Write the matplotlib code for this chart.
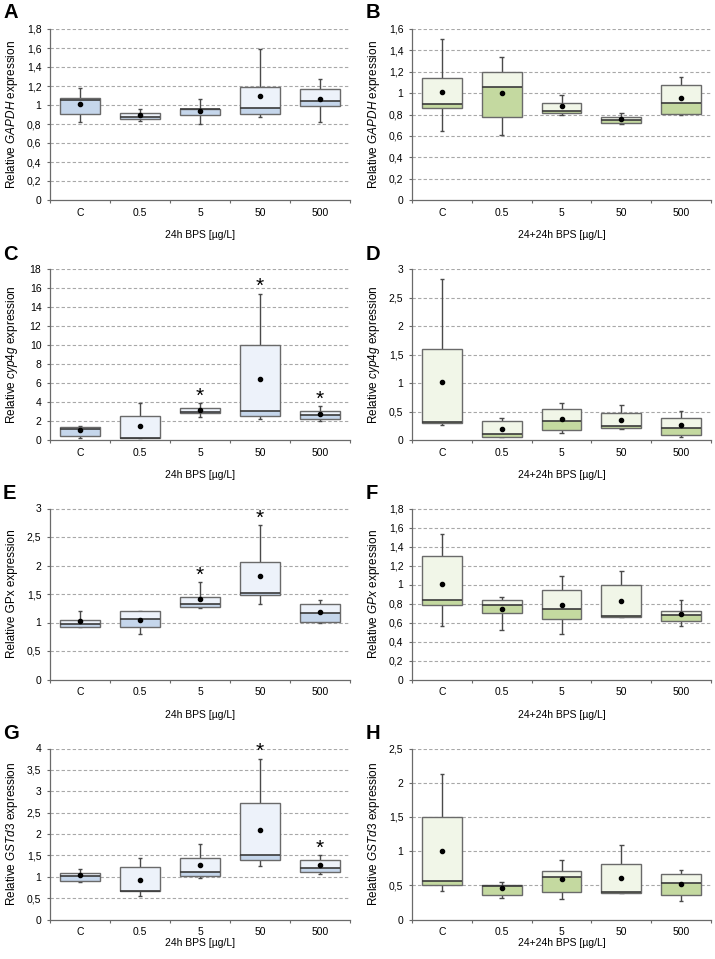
import matplotlib
matplotlib.use("Agg")
import matplotlib.pyplot as plt
import numpy as np

plt.rcParams['font.family'] = ['Liberation Sans', 'DejaVu Sans']
plt.rcParams['mathtext.fontset'] = 'custom'
plt.rcParams['mathtext.rm'] = 'Liberation Sans'
plt.rcParams['mathtext.it'] = 'Liberation Sans:italic'

categories = ["C", "0.5", "5", "50", "500"]

# Panel A: GAPDH, 24h
A_lo = [0.825, 0.83, 0.80, 0.87, 0.825]
A_q1 = [0.91, 0.856, 0.89, 0.91, 0.985]
A_med = [1.05, 0.877, 0.955, 0.97, 1.04]
A_q3 = [1.07, 0.92, 0.96, 1.19, 1.17]
A_hi = [1.18, 0.96, 1.06, 1.59, 1.27]
A_mean = [1.007, 0.89, 0.94, 1.094, 1.066]
A_star = [None, None, None, None, None]

# Panel B: GAPDH, 24+24h
B_lo = [0.65, 0.609, 0.80, 0.708, 0.795]
B_q1 = [0.864, 0.78, 0.817, 0.72, 0.808]
B_med = [0.895, 1.053, 0.836, 0.75, 0.907]
B_q3 = [1.137, 1.202, 0.907, 0.774, 1.078]
B_hi = [1.507, 1.336, 0.985, 0.81, 1.15]
B_mean = [1.01, 1.0, 0.879, 0.76, 0.954]
B_star = [None, None, None, None, None]

# Panel C: cyp4g, 24h
C_lo = [0.25, 0.18, 2.39, 2.18, 1.97]
C_q1 = [0.46, 0.18, 2.85, 2.57, 2.25]
C_med = [1.16, 0.22, 2.9, 3.03, 2.64]
C_q3 = [1.41, 2.54, 3.42, 9.96, 3.06]
C_hi = [1.51, 3.94, 3.94, 15.42, 3.56]
C_mean = [1.06, 1.44, 3.17, 6.44, 2.75]
C_star = [None, None, 4.86, 16.4, 4.47]

# Panel D: cyp4g, 24+24h
D_lo = [0.26, 0.047, 0.117, 0.19, 0.053]
D_q1 = [0.30, 0.058, 0.175, 0.205, 0.088]
D_med = [0.316, 0.11, 0.34, 0.25, 0.205]
D_q3 = [1.60, 0.33, 0.55, 0.48, 0.39]
D_hi = [2.82, 0.39, 0.65, 0.608, 0.515]
D_mean = [1.02, 0.19, 0.374, 0.35, 0.263]
D_star = [None, None, None, None, None]

# Panel E: GPx, 24h
E_lo = [0.92, 0.80, 1.26, 1.33, 1.0]
E_q1 = [0.924, 0.924, 1.27, 1.474, 1.01]
E_med = [0.965, 1.064, 1.327, 1.52, 1.158]
E_q3 = [1.04, 1.2, 1.456, 2.07, 1.316]
E_hi = [1.20, 1.2, 1.71, 2.71, 1.386]
E_mean = [1.02, 1.047, 1.415, 1.81, 1.187]
E_star = [None, None, 1.87, 2.87, None]

# Panel F: GPx, 24+24h
F_lo = [0.568, 0.526, 0.484, 0.653, 0.568]
F_q1 = [0.782, 0.695, 0.635, 0.66, 0.621]
F_med = [0.832, 0.782, 0.747, 0.667, 0.674]
F_q3 = [1.298, 0.832, 0.944, 0.993, 0.726]
F_hi = [1.533, 0.87, 1.091, 1.137, 0.835]
F_mean = [1.003, 0.747, 0.786, 0.825, 0.691]
F_star = [None, None, None, None, None]

# Panel G: GSTd3, 24h
G_lo = [0.866, 0.55, 0.967, 1.25, 1.076]
G_q1 = [0.905, 0.66, 1.006, 1.39, 1.10]
G_med = [1.02, 0.665, 1.12, 1.505, 1.20]
G_q3 = [1.09, 1.23, 1.45, 2.73, 1.40]
G_hi = [1.17, 1.45, 1.76, 3.75, 1.50]
G_mean = [1.03, 0.92, 1.27, 2.09, 1.27]
G_star = [None, None, None, 3.98, 1.715]

# Panel H: GSTd3, 24+24h
H_lo = [0.417, 0.309, 0.294, 0.385, 0.265]
H_q1 = [0.5, 0.363, 0.397, 0.387, 0.353]
H_med = [0.559, 0.485, 0.627, 0.397, 0.529]
H_q3 = [1.5, 0.505, 0.716, 0.809, 0.672]
H_hi = [2.127, 0.544, 0.868, 1.088, 0.725]
H_mean = [1.005, 0.461, 0.588, 0.613, 0.52]
H_star = [None, None, None, None, None]

panel_letters = ["A", "B", "C", "D", "E", "F", "G", "H"]
y_max = [1.8, 1.6, 18, 3, 3, 1.8, 4, 2.5]
y_step = [0.2, 0.2, 2, 0.5, 0.5, 0.2, 0.5, 0.5]
y_labels = [r"Relative $\it{GAPDH}$ expression", r"Relative $\it{GAPDH}$ expression",
            r"Relative $\it{cyp4g}$ expression", r"Relative $\it{cyp4g}$ expression",
            "Relative GPx expression", r"Relative $\it{GPx}$ expression",
            r"Relative $\it{GSTd3}$ expression", r"Relative $\it{GSTd3}$ expression"]
x_labels = ["24h BPS [µg/L]", "24+24h BPS [µg/L]"]

panels = [
    (A_lo, A_q1, A_med, A_q3, A_hi, A_mean, A_star),
    (B_lo, B_q1, B_med, B_q3, B_hi, B_mean, B_star),
    (C_lo, C_q1, C_med, C_q3, C_hi, C_mean, C_star),
    (D_lo, D_q1, D_med, D_q3, D_hi, D_mean, D_star),
    (E_lo, E_q1, E_med, E_q3, E_hi, E_mean, E_star),
    (F_lo, F_q1, F_med, F_q3, F_hi, F_mean, F_star),
    (G_lo, G_q1, G_med, G_q3, G_hi, G_mean, G_star),
    (H_lo, H_q1, H_med, H_q3, H_hi, H_mean, H_star),
]

W, H = 715, 959
fig = plt.figure(figsize=(W / 100, H / 100), dpi=100)

col_x = [50, 412]
col_w = [300, 299]
row_top = [29, 269, 508.5, 748.5]
ax_h = 171
letter_top = [3, 245, 484, 724]
xlabel_off = [35, 35, 35, 23]

lower_cols = ["#c5d6eb", "#c4d9a0"]
upper_cols = ["#edf2fa", "#f1f6e8"]
edge_col = "#6a6a6a"
med_col = "#3a3a3a"
whisk_col = "#4a4a4a"


def fmt(v):
    s = ("%.2f" % v).rstrip("0").rstrip(".")
    return s.replace(".", ",")


for i, (lo, q1, med, q3, hi, mean, star) in enumerate(panels):
    r, c = divmod(i, 2)
    left = col_x[c] / W
    bottom = 1 - (row_top[r] + ax_h) / H
    ax = fig.add_axes([left, bottom, col_w[c] / W, ax_h / H])
    x = np.arange(len(categories))
    lo, q1, med, q3, hi, mean = map(np.array, (lo, q1, med, q3, hi, mean))
    bw = 0.667
    cw = 0.08
    # grid
    ticks = np.round(np.arange(0, y_max[i] + y_step[i] / 2, y_step[i]), 3)
    for t in ticks[1:]:
        ax.axhline(t, color="#a8a8a8", lw=0.8, ls=(0, (3, 2)), zorder=0)
    # whiskers
    ax.vlines(x, q3, hi, color=whisk_col, lw=1.0, zorder=1)
    ax.vlines(x, lo, q1, color=whisk_col, lw=1.0, zorder=1)
    ax.hlines(hi, x - cw / 2, x + cw / 2, color=whisk_col, lw=1.0, zorder=1)
    ax.hlines(lo, x - cw / 2, x + cw / 2, color=whisk_col, lw=1.0, zorder=1)
    # boxes
    ax.bar(x, med - q1, bottom=q1, width=bw, color=lower_cols[c], lw=0, zorder=2)
    ax.bar(x, q3 - med, bottom=med, width=bw, color=upper_cols[c], lw=0, zorder=2)
    ax.bar(x, q3 - q1, bottom=q1, width=bw, facecolor="none", edgecolor=edge_col, lw=1.0, zorder=3)
    ax.hlines(med, x - bw / 2, x + bw / 2, color=med_col, lw=1.2, zorder=4)
    ax.plot(x, mean, "o", color="black", ms=3, zorder=5)
    for xi, s in zip(x, star):
        if s is not None:
            ax.annotate("*", (xi, s), xytext=(0, -1.5), textcoords="offset points",
                        ha="center", va="center", fontsize=15, zorder=6)
    ax.set_xlim(-0.5, len(categories) - 0.5)
    ax.set_ylim(0, y_max[i])
    ax.set_yticks(ticks)
    ax.set_yticklabels([fmt(t) for t in ticks])
    ax.set_xticks(x)
    ax.set_xticklabels(categories)
    ax.set_xticks(np.arange(-0.5, len(categories)), minor=True)
    ax.tick_params(axis="x", which="major", length=0, pad=5.5, labelsize=7.5)
    ax.tick_params(axis="x", which="minor", length=2.5, width=0.8, color="#6a6a6a", direction="out")
    ax.tick_params(axis="y", length=2.2, width=0.8, color="#6a6a6a", pad=4, labelsize=7.5)
    for sp in ["top", "right"]:
        ax.spines[sp].set_visible(False)
    for sp in ["left", "bottom"]:
        ax.spines[sp].set_color("#6a6a6a")
        ax.spines[sp].set_linewidth(0.9)
    ax.text(-38 / col_w[c], 0.5, y_labels[i], transform=ax.transAxes, rotation=90,
            ha="center", va="center", fontsize=8.5)
    ax.text(0.5, -xlabel_off[r] / ax_h, x_labels[c], transform=ax.transAxes, ha="center",
            va="center", fontsize=7.5)
    lx = 3 if c == 0 else 366
    fig.text(lx / W, 1 - letter_top[r] / H, panel_letters[i], ha="left", va="top",
             fontsize=14.5, fontweight="bold")

fig.savefig("out.png", dpi=100)
